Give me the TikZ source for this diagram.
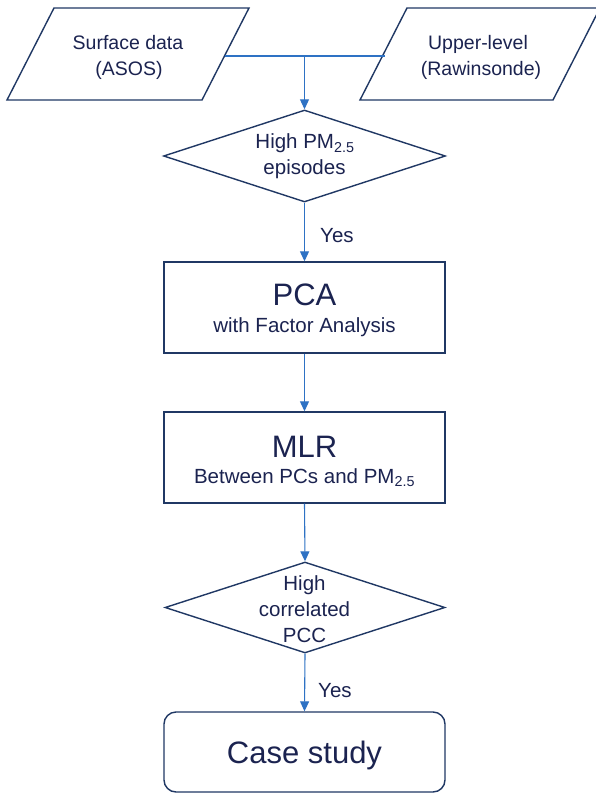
\documentclass[tikz,border=0pt]{standalone}
\usepackage{fontspec}
\setmainfont{Liberation Sans}
\usetikzlibrary{shapes.geometric,arrows.meta}
\definecolor{navy}{HTML}{203864}
\definecolor{ink}{HTML}{1B2350}
\definecolor{arrowblue}{HTML}{2E72C4}
\begin{document}
\begin{tikzpicture}[x=1pt,y=-1pt,
  outline/.style={draw=navy, line width=1.4pt, line join=miter},
  box/.style={outline, rectangle, minimum width=281pt, minimum height=91pt, inner sep=0pt},
  dia/.style={outline, diamond, minimum width=282pt, minimum height=92pt, inner sep=0pt},
  arr/.style={draw=arrowblue, line width=1.1pt, -{Triangle[length=10pt,width=9pt]}},
  link/.style={draw=arrowblue, line width=1.1pt},
  txt/.style={text=ink, inner sep=0pt, anchor=base, font=\fontsize{19.5}{23}\selectfont},
  mid/.style={text=ink, inner sep=0pt, anchor=base, font=\fontsize{20.5}{24}\selectfont},
  big/.style={text=ink, inner sep=0pt, anchor=base, font=\fontsize{31}{36}\selectfont}
]
\useasboundingbox (0,0) rectangle (595,794);
\fill[white] (0,0) rectangle (595,794);

% input parallelograms
\draw[outline] (54,8) -- (249,8) -- (202,100) -- (7,100) -- cycle;
\draw[outline] (407,8) -- (600,8) -- (553,100) -- (360,100) -- cycle;
\coordinate (surfE) at (224.5,56);
\coordinate (upperW) at (384.5,56);

% shapes
\node[dia] (d1) at (304.5,156) {};
\node[box] (pca) at (304.5,307.5) {};
\node[box] (mlr) at (304.5,457.5) {};
\node[dia, minimum width=280pt, minimum height=91pt] (d2) at (305,607.5) {};
\node[box, rounded corners=12pt, minimum height=80pt] (case) at (304.5,752) {};

% texts
\node[txt] (t1a) at (128,50) {Surface data};
\node[txt] (t1b) at (129,76) {(ASOS)};
\node[txt] (t2a) at (478,50) {Upper-level};
\node[txt] (t2b) at (481,76) {(Rawinsonde)};
\node[mid] (t3a) at (305,149) {High PM\textsubscript{2.5}};
\node[mid] (t3b) at (304.5,175) {episodes};
\node[big] (t4a) at (304.5,305) {PCA};
\node[mid] (t4b) at (304.5,332) {with Factor Analysis};
\node[big] (t5a) at (304.5,457) {MLR};
\node[mid] (t5b) at (304.5,483) {Between PCs and PM\textsubscript{2.5}};
\node[mid] (t6a) at (304.5,590) {High};
\node[mid] (t6b) at (304.5,616) {correlated};
\node[mid] (t6c) at (304.5,642) {PCC};
\node[big] (t7) at (304.5,763) {Case study};
\node[mid, anchor=base west] (yes1) at (320,243) {Yes};
\node[mid, anchor=base west] (yes2) at (318,697) {Yes};

% connectors
\draw[link] (surfE) -- coordinate[pos=0.5] (j) (upperW);
\draw[arr] (j) -- (d1.north);
\draw[arr] (d1.south) -- (pca.north);
\draw[arr] (pca.south) -- (mlr.north);
\draw[arr] (mlr.south) -- (d2.north);
\draw[arr] (d2.south) -- (case.north);
\end{tikzpicture}
\end{document}
